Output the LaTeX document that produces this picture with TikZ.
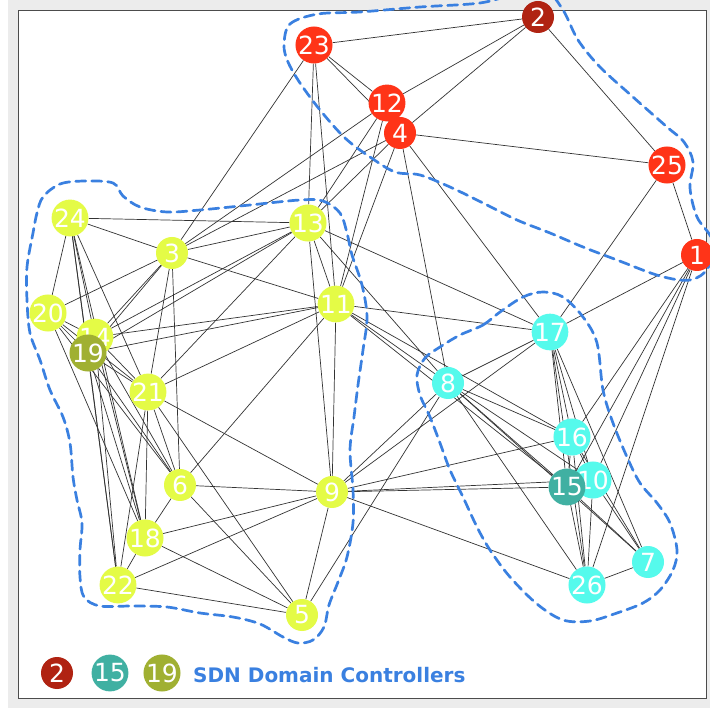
\documentclass[tikz,border=0pt]{standalone}
\usepackage{fontspec}
\setmainfont{DejaVu Sans}
\definecolor{nodered}{HTML}{FF3418}
\definecolor{ctrlred}{HTML}{B02312}
\definecolor{nodeyel}{HTML}{E4FB46}
\definecolor{ctrlyel}{HTML}{A0B032}
\definecolor{nodecyan}{HTML}{55FAEC}
\definecolor{ctrlcyan}{HTML}{40B0A2}
\definecolor{hullblue}{HTML}{3A80E0}
\definecolor{panelgray}{HTML}{ECECEC}
\pgfdeclarelayer{bg}
\pgfdeclarelayer{edges}
\pgfdeclarelayer{hulls}
\pgfsetlayers{bg,edges,hulls,main}
\begin{document}
\begin{tikzpicture}[x=1pt,y=-1pt,
  vtx/.style={circle, inner sep=0pt, minimum size=32pt, text=white,
              font=\fontsize{25}{25}\selectfont},
  vred/.style={vtx, fill=nodered},
  vyel/.style={vtx, fill=nodeyel},
  vcyan/.style={vtx, fill=nodecyan},
  link/.style={draw=black!80, line width=0.7pt},
  hull/.style={draw=hullblue, line width=2.7pt, dash pattern=on 10pt off 6pt,
               line cap=round, line join=round},
  legendtext/.style={text=hullblue, font=\bfseries\fontsize{20}{20}\selectfont, anchor=west, inner sep=0pt}
]
\useasboundingbox (0,0) rectangle (710,708);

% window frame
\begin{pgfonlayer}{bg}
  \fill[white] (0,0) rectangle (710,708);
  \fill[panelgray] (8,0) rectangle (710,708);
  \draw[fill=white, draw=black!70, line width=1pt] (18,11) rectangle (706,698);
\end{pgfonlayer}

% red domain
\node[vtx, fill=ctrlred] (n2) at (538,17) {2};
\node[vred] (n23) at (314,45) {23};
\node[vred] (n12) at (387,103) {12};
\node[vred] (n4)  at (400,133) {4};
\node[vred] (n25) at (667,165) {25};
\node[vred] (n1)  at (697,255) {1};

% yellow domain
\node[vyel] (n24) at (70,218) {24};
\node[vyel] (n13) at (308,223) {13};
\node[vyel] (n3)  at (172,253) {3};
\node[vyel] (n20) at (48,313) {20};
\node[vyel] (n11) at (336,304) {11};
\node[vyel] (n14) at (95,337) {14};
\node[vtx, fill=ctrlyel] (n19) at (88,353) {19};
\node[vyel] (n21) at (148,392) {21};
\node[vyel] (n6)  at (180,485) {6};
\node[vyel] (n9)  at (332,492) {9};
\node[vyel] (n18) at (145,538) {18};
\node[vyel] (n22) at (118,585) {22};
\node[vyel] (n5)  at (302,615) {5};

% cyan domain
\node[vcyan] (n17) at (550,332) {17};
\node[vcyan] (n8)  at (448,383) {8};
\node[vcyan] (n16) at (572,437) {16};
\node[vcyan] (n10) at (593,480) {10};
\node[vtx, fill=ctrlcyan] (n15) at (567,487) {15};
\node[vcyan] (n7)  at (648,562) {7};
\node[vcyan] (n26) at (587,585) {26};

% links
\begin{pgfonlayer}{edges}
\foreach \a/\b in {
  2/23, 2/12, 2/4, 2/25, 25/4, 25/1, 25/17, 1/17, 1/16, 1/10, 1/15, 1/26,
  23/12, 23/4, 23/13, 23/11, 23/3,
  12/3, 12/13, 12/11, 4/3, 4/13, 4/11, 4/8, 4/17,
  24/13, 24/3, 24/20, 24/14, 24/19, 24/21, 24/22, 24/18,
  3/20, 3/13, 3/11, 3/14, 3/19, 3/21, 3/6,
  13/14, 13/19, 13/11, 13/9, 13/17, 13/8, 13/21,
  11/14, 11/19, 11/21, 11/6, 11/9, 11/17, 11/8, 11/16, 11/15,
  20/14, 20/19, 20/21, 20/6, 20/18,
  14/21, 14/6, 14/18, 14/22,
  19/21, 19/6, 19/18, 19/22,
  21/6, 21/18, 21/22, 21/9, 21/5,
  6/9, 6/18, 6/5,
  18/9, 18/5, 18/22,
  22/9, 22/5,
  9/5, 9/8, 9/17, 9/16, 9/15, 9/10, 9/26,
  5/8,
  17/8, 17/16, 17/15, 17/10, 17/26, 17/7,
  8/16, 8/15, 8/10, 8/7, 8/26,
  16/15, 16/26, 16/7, 16/10,
  15/26, 15/7, 10/26, 10/7, 26/7}
  \draw[link] (n\a) -- (n\b);
\end{pgfonlayer}

% domain boundaries
\begin{pgfonlayer}{hulls}
\draw[hull] plot[smooth cycle, tension=0.55] coordinates {
  (284,45) (290,24) (318,14) (360,12) (420,7) (480,3) (515,-6) (545,-10)
  (563,10) (578,40) (600,67) (633,97) (667,127) (684,142) (693,162)
  (690,188) (697,217) (712,240) (708,268) (690,280) (660,276) (617,260)
  (583,247) (550,233) (517,220) (483,203) (450,187) (420,175) (395,172)
  (370,157) (345,138) (320,110) (300,83) (288,62)};
\draw[hull] plot[smooth cycle, tension=0.55] coordinates {
  (43,197) (60,184) (85,181) (113,183) (123,196) (140,207) (167,212)
  (200,210) (250,205) (300,200) (323,201) (340,213) (347,233) (352,255)
  (362,285) (367,317) (363,350) (358,385) (354,417) (350,450) (353,490)
  (353,523) (347,557) (338,582) (329,605) (324,627) (313,640) (298,643)
  (283,637) (260,624) (233,617) (200,613) (167,607) (133,606) (100,606)
  (84,597) (80,577) (80,550) (82,523) (77,500) (73,477) (70,443) (63,417)
  (50,390) (40,360) (30,333) (27,300) (27,267) (33,233) (37,213)};
\draw[hull] plot[smooth cycle, tension=0.55] coordinates {
  (460,335) (483,325) (500,312) (523,297) (543,292) (563,297) (583,317)
  (597,343) (603,390) (613,423) (627,457) (640,483) (657,503) (670,523)
  (677,550) (673,570) (660,590) (643,603) (617,613) (590,621) (563,620)
  (537,604) (510,577) (490,550) (477,527) (463,497) (450,470) (440,443)
  (430,417) (420,395) (417,375) (425,358) (440,347)};
\end{pgfonlayer}

% legend
\node[vtx, fill=ctrlred]  (l2)  at (57,673)  {2};
\node[vtx, fill=ctrlcyan] (l15) at (110,673) {15};
\node[vtx, fill=ctrlyel]  (l19) at (162,673) {19};
\node[legendtext] (ltxt) at (193,675) {SDN Domain Controllers};
\end{tikzpicture}
\end{document}
